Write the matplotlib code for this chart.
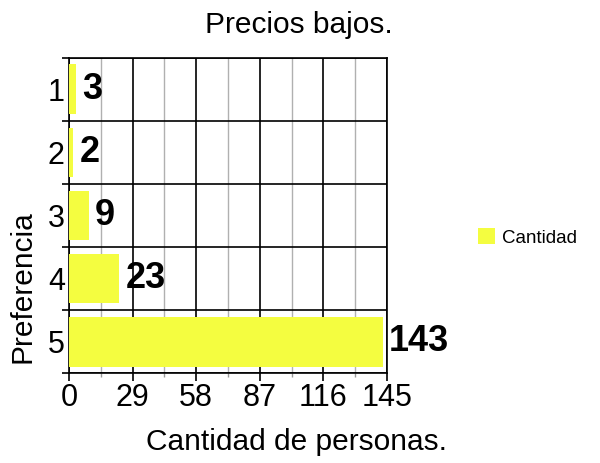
import matplotlib.pyplot as plt
import numpy as np
from matplotlib.ticker import MultipleLocator, FixedLocator

plt.rcParams['font.family'] = ['Liberation Sans', 'DejaVu Sans']

categories = ['1', '2', '3', '4', '5']
values = [3, 2, 9, 23, 143]
x_ticks = [0, 29, 58, 87, 116, 145]
bar_color = '#f4fd40'

fig = plt.figure(figsize=(6, 4.63), dpi=100)
ax = fig.add_axes([0.115, 0.194, 0.53, 0.681])

pos = np.arange(len(categories))
ax.barh(pos, values, height=0.79, color=bar_color, label='Cantidad', zorder=3)
for p, v in zip(pos, values):
    ax.text(v + 2.8, p, str(v), va='center', ha='left', fontsize=26,
            fontweight='bold', zorder=4)

ax.set_xlim(0, 145)
ax.set_ylim(len(categories) - 0.5, -0.5)
ax.set_xticks(x_ticks)
ax.xaxis.set_minor_locator(MultipleLocator(14.5))
ax.set_yticks(pos)
ax.set_yticklabels(categories)
ax.yaxis.set_minor_locator(FixedLocator(np.arange(-0.5, len(categories), 1)))

ax.grid(which='major', axis='x', color='black', lw=1.2, zorder=1)
ax.grid(which='minor', axis='x', color='#b0b0b0', lw=1, zorder=1)
ax.grid(which='minor', axis='y', color='black', lw=1.2, zorder=1)

ax.tick_params(axis='x', which='major', labelsize=22, length=6, width=1.2, pad=1)
ax.tick_params(axis='x', which='minor', length=3, width=1, color='#999999')
ax.tick_params(axis='y', which='major', labelsize=22, length=0, pad=3)
ax.tick_params(axis='y', which='minor', length=5, width=1.2)

for s in ax.spines.values():
    s.set_linewidth(1.2)

# title and axis labels placed on the figure like the original
fig.text(0.498, 0.946, 'Precios bajos.', fontsize=21.5, ha='center', va='center')
fig.text(0.495, 0.045, 'Cantidad de personas.', fontsize=21.5, ha='center',
         va='center')
fig.text(0.038, 0.38, 'Preferencia', fontsize=21.5, ha='center', va='center',
         rotation=90)

fig.legend(loc='center left', bbox_to_anchor=(0.768, 0.487), frameon=False,
           fontsize=13.5, handlelength=0.9, handleheight=0.9, handletextpad=0.4)

fig.savefig('out.png', dpi=100)
